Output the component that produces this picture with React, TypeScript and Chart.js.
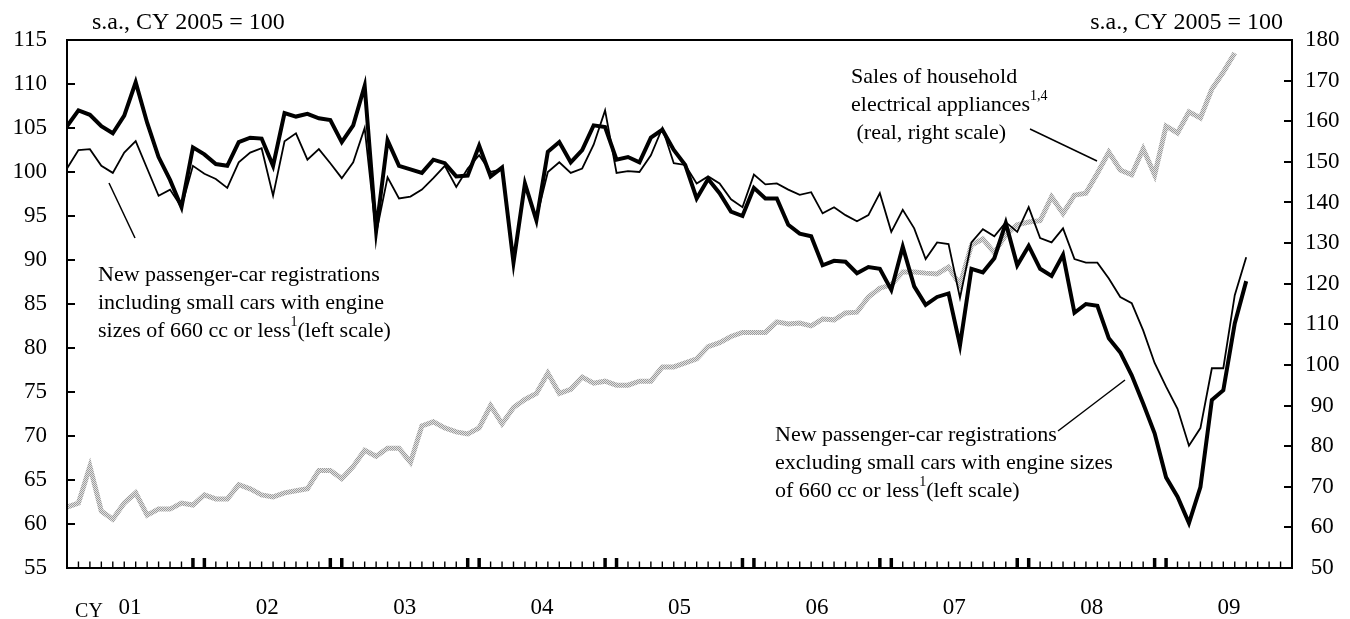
import React, { useEffect, useRef } from "react";
import { Chart, registerables } from "chart.js";
Chart.register(...registerables);

// ---- data (monthly, Jan 2001 = index 0) ----
const monthCount = 108; // Jan 2001 .. Dec 2009
const yearLabels = ["01", "02", "03", "04", "05", "06", "07", "08", "09"];
const leftTickValues = [60, 65, 70, 75, 80, 85, 90, 95, 100, 105, 110];
const rightTickValues = [60, 70, 80, 90, 100, 110, 120, 130, 140, 150, 160, 170];

// New passenger-car registrations excluding small cars (left scale)
const excludingSmall = [
  105.2, 107.0, 106.5, 105.2, 104.4, 106.4, 110.2, 105.6, 101.7, 99.1, 96.0, 102.8,
  102.0, 100.9, 100.7, 103.4, 103.9, 103.8, 100.7, 106.7, 106.3, 106.6, 106.1, 105.9,
  103.4, 105.3, 109.8, 93.3, 103.6, 100.7, 100.3, 99.9, 101.4, 101.0, 99.5, 99.6,
  103.0, 99.5, 100.5, 89.7, 98.7, 94.5, 102.3, 103.4, 101.1, 102.5, 105.3, 105.1,
  101.4, 101.7, 101.1, 103.9, 104.8, 102.5, 100.8, 97.0, 99.2, 97.6, 95.5, 95.0,
  98.2, 97.0, 97.0, 94.0, 93.0, 92.7, 89.4, 89.9, 89.8, 88.5, 89.2, 89.0,
  86.6, 91.5, 87.0, 84.9, 85.8, 86.2, 80.3, 89.0, 88.6, 90.2, 94.2, 89.4,
  91.6, 89.0, 88.2, 90.6, 84.0, 85.0, 84.8, 81.1, 79.5, 76.9, 73.7, 70.3,
  65.3, 63.1, 60.1, 64.2, 74.1, 75.2, 82.8, 87.6,
];

// New passenger-car registrations including small cars (left scale)
const includingSmall = [
  100.4, 102.5, 102.6, 100.7, 99.9, 102.2, 103.5, 100.4, 97.3, 98.0, 96.0, 100.7,
  99.8, 99.2, 98.2, 101.1, 102.2, 102.7, 97.3, 103.5, 104.4, 101.4, 102.6, 101.0,
  99.3, 101.1, 105.0, 93.0, 99.4, 97.0, 97.2, 98.0, 99.3, 100.7, 98.3, 100.4,
  101.9, 100.0, 100.3, 90.0, 98.5, 94.7, 100.0, 101.1, 99.9, 100.4, 103.1, 107.0,
  99.9, 100.1, 100.0, 101.9, 105.0, 101.0, 100.8, 98.7, 99.5, 98.7, 96.9, 96.0,
  99.7, 98.6, 98.7, 98.0, 97.4, 97.7, 95.3, 96.0, 95.1, 94.4, 95.1, 97.6,
  93.2, 95.7, 93.6, 90.1, 92.0, 91.8, 85.7, 92.0, 93.5, 92.7, 94.3, 93.2,
  96.0, 92.5, 92.0, 93.6, 90.1, 89.7, 89.7, 87.9, 85.8, 85.1, 82.0, 78.3,
  75.6, 73.1, 68.9, 70.9, 77.7, 77.7, 86.0, 90.3,
];

// Sales of household electrical appliances (right scale)
const applianceSales = [
  65.0, 66.0, 75.0, 64.0, 62.0, 66.0, 68.5, 63.0, 64.5, 64.5, 66.0, 65.5,
  68.0, 67.0, 67.0, 70.5, 69.5, 68.0, 67.5, 68.5, 69.0, 69.5, 74.0, 74.0,
  72.0, 75.0, 79.0, 77.5, 79.5, 79.5, 76.0, 85.0, 86.0, 84.5, 83.5, 83.0,
  84.5, 90.0, 85.5, 89.5, 91.5, 93.0, 98.0, 93.0, 94.0, 97.0, 95.5, 96.0,
  95.0, 95.0, 96.0, 96.0, 99.5, 99.5, 100.5, 101.5, 104.5, 105.5, 107.0, 108.0,
  108.0, 108.0, 110.6, 110.1, 110.3, 109.6, 111.3, 111.1, 112.8, 113.0, 116.7, 118.9,
  119.7, 122.9, 122.9, 122.6, 122.4, 124.1, 119.7, 129.5, 131.0, 127.6, 132.0, 134.5,
  135.2, 135.5, 141.4, 137.3, 141.8, 142.3, 147.2, 152.4, 148.0, 146.8, 153.2, 146.8,
  158.8, 157.1, 162.3, 160.8, 167.9, 172.1, 176.8,
];

const FONT = "'Liberation Serif', 'Times New Roman', Times, serif";

type Seg = { t: string; sup?: boolean };
const notes: { x: number; y: number; lines: Seg[][] }[] = [
  {
    x: 851,
    y: 77,
    lines: [
      [{ t: "Sales of household" }],
      [{ t: "electrical appliances" }, { t: "1,4", sup: true }],
      [{ t: " (real, right scale)" }],
    ],
  },
  {
    x: 98,
    y: 275,
    lines: [
      [{ t: "New passenger-car registrations" }],
      [{ t: "including small cars with engine" }],
      [{ t: "sizes of 660 cc or less" }, { t: "1", sup: true }, { t: "(left scale)" }],
    ],
  },
  {
    x: 775,
    y: 435,
    lines: [
      [{ t: "New passenger-car registrations" }],
      [{ t: "excluding small cars with engine sizes" }],
      [{ t: "of 660 cc or less" }, { t: "1", sup: true }, { t: "(left scale)" }],
    ],
  },
];
const leaders = [
  [1030, 129, 1097, 161],
  [109, 183, 135, 238],
  [1058, 431, 1125, 380],
];

const decor = {
  id: "decor",
  afterDraw(chart: any) {
    const { ctx, chartArea: a, scales } = chart;
    const xs = scales.x, yL = scales.y, yR = scales.yR;
    ctx.save();
    ctx.strokeStyle = "#000";
    ctx.fillStyle = "#000";
    ctx.lineCap = "butt";
    // frame
    ctx.lineWidth = 2;
    ctx.strokeRect(a.left, a.top, a.right - a.left, a.bottom - a.top);
    // y ticks (inward)
    ctx.lineWidth = 2;
    for (const v of leftTickValues) {
      const y = Math.round(yL.getPixelForValue(v));
      ctx.beginPath(); ctx.moveTo(a.left, y); ctx.lineTo(a.left + 8, y); ctx.stroke();
    }
    for (const v of rightTickValues) {
      const y = Math.round(yR.getPixelForValue(v));
      ctx.beginPath(); ctx.moveTo(a.right - 8, y); ctx.lineTo(a.right, y); ctx.stroke();
    }
    // month ticks (inward)
    for (let i = 1; i < monthCount - 1; i++) {
      const px = xs.getPixelForValue(i);
      const big = i % 12 === 11 || i % 12 === 0;
      ctx.lineWidth = big ? 3.5 : 1.4;
      ctx.beginPath();
      ctx.moveTo(px, a.bottom);
      ctx.lineTo(px, a.bottom - (big ? 10 : 6.5));
      ctx.stroke();
    }
    // unit titles
    ctx.font = `24px ${FONT}`;
    ctx.textBaseline = "middle";
    ctx.textAlign = "left";
    ctx.fillText("s.a., CY 2005 = 100", 92, 23);
    ctx.textAlign = "right";
    ctx.fillText("s.a., CY 2005 = 100", 1283, 23);
    // CY
    ctx.textAlign = "center";
    ctx.font = `20px ${FONT}`;
    ctx.fillText("CY", 89, 612);
    // notes
    ctx.textAlign = "left";
    for (const n of notes) {
      n.lines.forEach((segs, li) => {
        let x = n.x;
        const y = n.y + li * 28;
        for (const s of segs) {
          if (s.sup) {
            ctx.font = `14px ${FONT}`;
            ctx.fillText(s.t, x, y - 9);
          } else {
            ctx.font = `22px ${FONT}`;
            ctx.fillText(s.t, x, y);
          }
          x += ctx.measureText(s.t).width;
        }
      });
    }
    ctx.lineWidth = 1.5;
    for (const [x1, y1, x2, y2] of leaders) {
      ctx.beginPath(); ctx.moveTo(x1, y1); ctx.lineTo(x2, y2); ctx.stroke();
    }
    ctx.restore();
  },
};

function makePattern(): CanvasPattern | string {
  const c = document.createElement("canvas");
  c.width = 2; c.height = 2;
  const g = c.getContext("2d");
  if (!g) return "#bbbbbb";
  g.fillStyle = "#e2e2e2"; g.fillRect(0, 0, 2, 2);
  g.fillStyle = "#9c9c9c"; g.fillRect(0, 0, 1, 1); g.fillRect(1, 1, 1, 1);
  return g.createPattern(c, "repeat") || "#bbbbbb";
}

export default function App() {
  const ref = useRef<HTMLCanvasElement | null>(null);
  useEffect(() => {
    if (!ref.current) return;
    const toPts = (arr: number[]) => arr.map((v, i) => ({ x: i, y: v }));
    const yearCenters = yearLabels.map((_, k) => 5.5 + 12 * k);
    const chart = new Chart(ref.current, {
      type: "line",
      data: {
        datasets: [
          { label: "excluding", data: toPts(excludingSmall), yAxisID: "y", borderColor: "#000", borderWidth: 4, pointRadius: 0, tension: 0 },
          { label: "including", data: toPts(includingSmall), yAxisID: "y", borderColor: "#000", borderWidth: 1.8, pointRadius: 0, tension: 0 },
          { label: "sales", data: toPts(applianceSales), yAxisID: "yR", borderColor: makePattern() as any, borderWidth: 5, pointRadius: 0, tension: 0 },
        ],
      },
      options: {
        animation: false,
        responsive: false,
        maintainAspectRatio: false,
        layout: { padding: { top: 40, left: 0, right: 0, bottom: 0 } },
        plugins: { legend: { display: false }, tooltip: { enabled: false }, title: { display: false } },
        scales: {
          x: {
            type: "linear",
            min: 0,
            max: monthCount - 1,
            grid: { display: false, drawTicks: false },
            border: { display: false },
            afterBuildTicks: (s: any) => { s.ticks = yearCenters.map((v) => ({ value: v })); },
            afterFit: (s: any) => { s.height = 51; },
            ticks: {
              autoSkip: false,
              maxRotation: 0,
              padding: 26,
              color: "#000",
              font: { family: FONT, size: 23 },
              callback: (_v: any, i: number) => yearLabels[i],
            },
          },
          y: {
            type: "linear",
            position: "left",
            min: 55,
            max: 115,
            grid: { display: false, drawTicks: false },
            border: { display: false },
            afterFit: (s: any) => { s.width = 67; },
            ticks: { stepSize: 5, padding: 20, color: "#000", font: { family: FONT, size: 23 } },
          },
          yR: {
            type: "linear",
            position: "right",
            min: 50,
            max: 180,
            grid: { display: false, drawTicks: false },
            border: { display: false },
            afterFit: (s: any) => { s.width = 58; },
            ticks: { stepSize: 10, padding: 13, crossAlign: "center", color: "#000", font: { family: FONT, size: 23 } },
          },
        },
      },
      plugins: [decor],
    } as any);
    return () => chart.destroy();
  }, []);
  return (
    <div style={{ position: "absolute", left: 0, top: 0, width: 1350, height: 619, background: "#fff" }}>
      <canvas ref={ref} width={1350} height={619} style={{ width: 1350, height: 619, display: "block" }} />
    </div>
  );
}
